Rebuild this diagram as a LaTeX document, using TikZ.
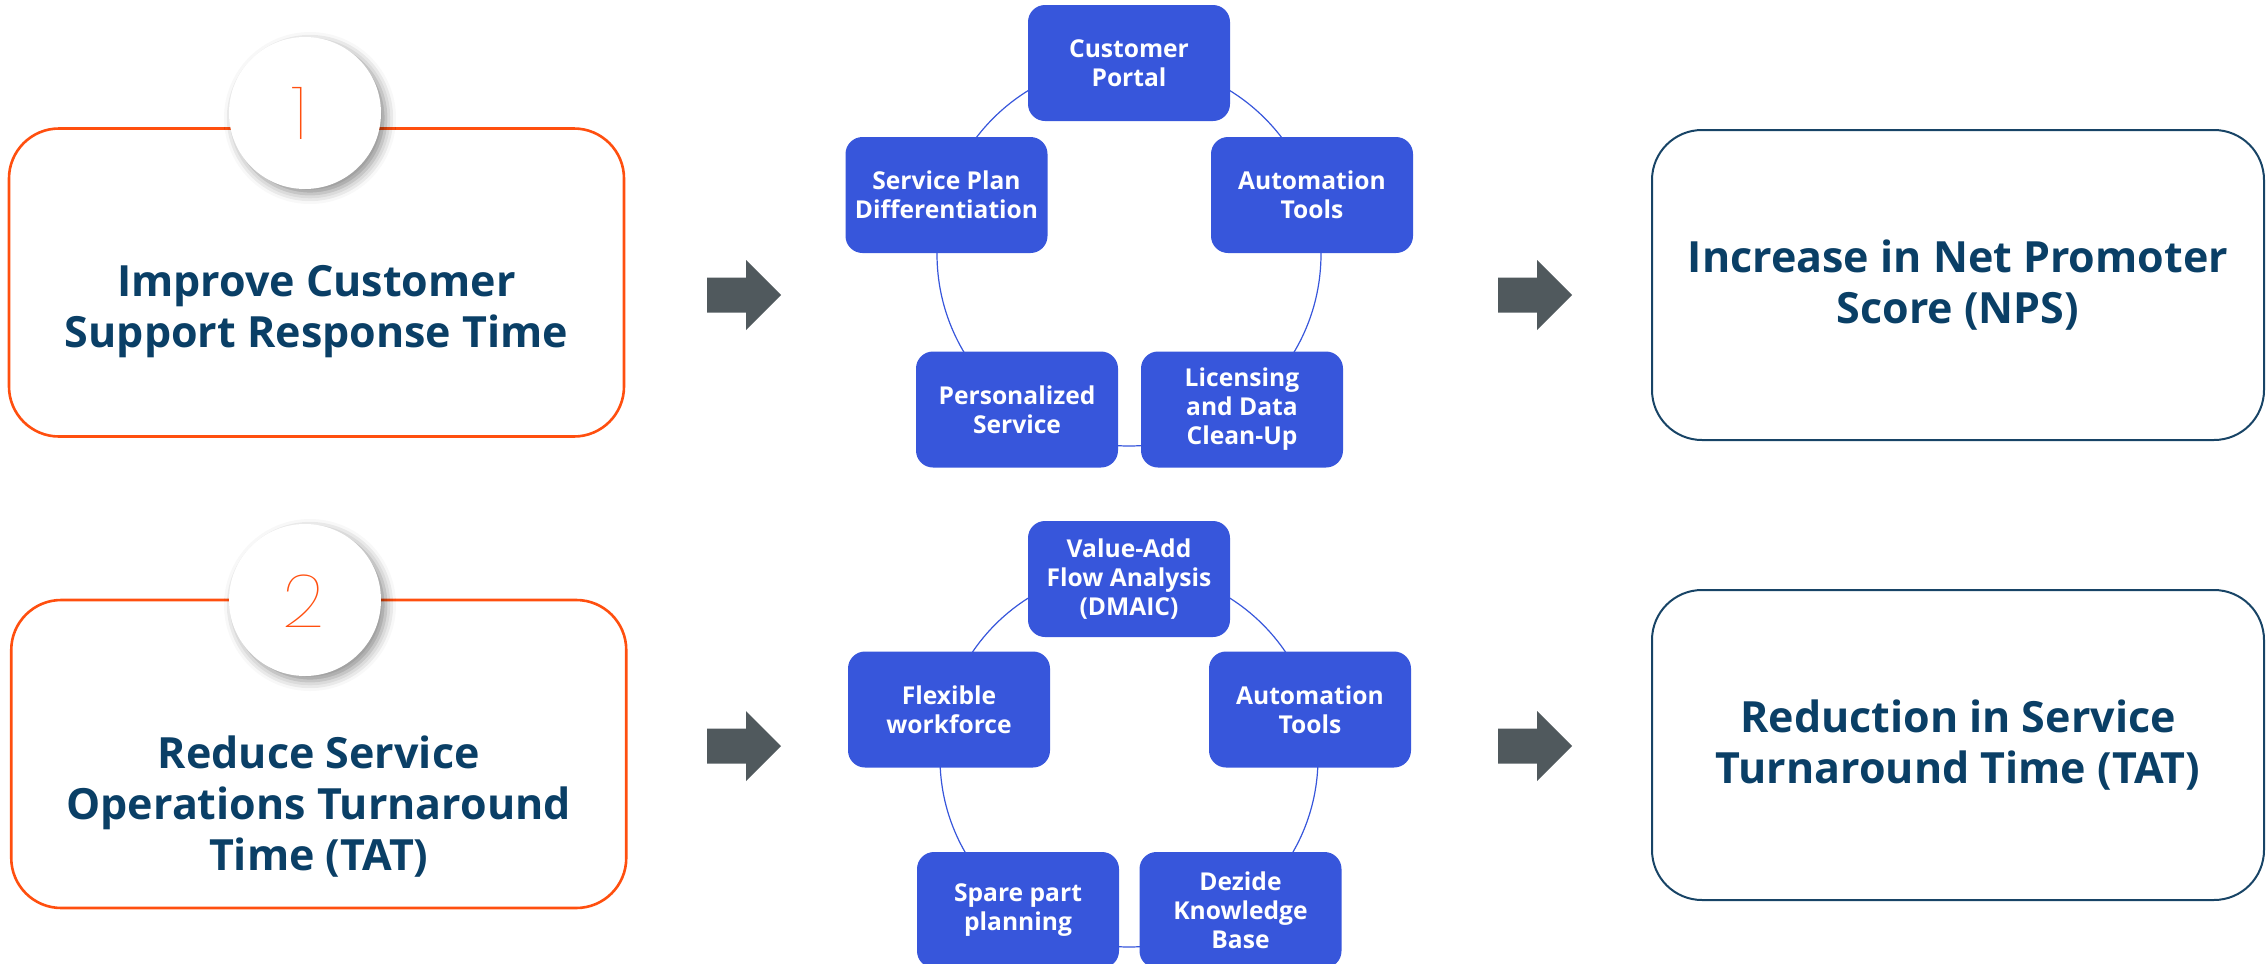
\documentclass[tikz,border=0pt]{standalone}
\usepackage{fontspec}
\setmainfont{Open Sans}
\newfontfamily\numfont{Poppins Thin}
\usetikzlibrary{shadows.blur,calc}

\definecolor{brandorange}{HTML}{FF4F0F}
\definecolor{navy}{HTML}{0A3F66}
\definecolor{outcomeline}{HTML}{184466}
\definecolor{leverblue}{HTML}{3756DB}
\definecolor{arrowgray}{HTML}{50595D}

\newcommand\bigtitle{\fontsize{21.5}{25.5}\selectfont\bfseries}
\newcommand\levertext{\fontsize{12.3}{14.5}\selectfont\bfseries}

\tikzset{
  goalbox/.style={draw=brandorange, line width=1.3pt, rounded corners=25pt,
    minimum width=307.5pt, minimum height=154pt, inner sep=0pt},
  outcomebox/.style={draw=outcomeline, line width=1pt, rounded corners=25pt,
    minimum width=306pt, minimum height=155pt, inner sep=0pt,
    align=center, text=navy, font=\bigtitle},
  goaltitle/.style={align=center, text=navy, font=\bigtitle, inner sep=0pt},
  lever/.style={fill=leverblue, rounded corners=8.5pt, minimum width=101pt,
    minimum height=58pt, inner sep=0pt, align=center, text=white, font=\levertext},
  ringline/.style={draw=leverblue, line width=0.6pt},
  disc/.style={circle, fill=white, minimum size=76pt, inner sep=0pt,
    blur shadow={shadow xshift=2.5pt, shadow yshift=-2.5pt,
      shadow blur radius=5pt, shadow opacity=45}},
  digit/.style={text=brandorange, font=\numfont\fontsize{37}{37}\selectfont, inner sep=0pt},
  pics/blockarrow/.style={code={
    \fill[arrowgray] (0,-17.5) -- (39,-17.5) -- (39,-35) -- (74,0)
      -- (39,35) -- (39,17.5) -- (0,17.5) -- cycle;}}
}

\begin{document}
\begin{tikzpicture}[x=0.5pt,y=-0.5pt]
\useasboundingbox (0,0) rectangle (2267,964);

% ---------- goals (left column) ----------
\node[goalbox] (goal1) at (316.5,282.5) {};
\node[goalbox] (goal2) at (318.75,754) {};
\node[goaltitle] (goal1txt) at (316.5,312) {Improve Customer\\Support Response Time};
\node[goaltitle] (goal2txt) at (318.75,807) {Reduce Service\\Operations Turnaround\\Time (TAT)};

\node[disc] (disc1) at (305,113) {};
\node[disc] (disc2) at (305,600) {};
\node[digit] (num1) at (300,113) {1};
\node[digit] (num2) at (303.5,601.5) {2};

% ---------- block arrows ----------
\coordinate (arrA1) at (707,295);
\coordinate (arrB1) at (1498,295);
\coordinate (arrA2) at (707,746);
\coordinate (arrB2) at (1498,746);
\pic at (arrA1) {blockarrow};
\pic at (arrB1) {blockarrow};
\pic at (arrA2) {blockarrow};
\pic at (arrB2) {blockarrow};

% ---------- lever cycle 1 ----------
\coordinate (ring1) at (1129,254);
\draw[ringline] (ring1) circle[radius=192];
\node[lever] (cp)  at (1129,63)    {Customer\\Portal};
\node[lever] (spd) at (946.5,195)  {Service Plan\\Differentiation};
\node[lever] (at1) at (1312,195)   {Automation\\Tools};
\node[lever] (ps)  at (1017,409.5) {Personalized\\Service};
\node[lever] (ldc) at (1242,409.5) {Licensing\\and Data\\Clean-Up};

% ---------- lever cycle 2 ----------
\coordinate (ring2) at (1129,758);
\draw[ringline] (ring2) circle[radius=189];
\node[lever] (va)  at (1129,579)   {Value-Add\\Flow Analysis\\(DMAIC)};
\node[lever] (fw)  at (949,709.5)  {Flexible\\workforce};
\node[lever] (at2) at (1310,709.5) {Automation\\Tools};
\node[lever] (sp)  at (1018,910)   {Spare part\\planning};
\node[lever] (dkb) at (1240.5,910) {Dezide\\Knowledge\\Base};

% ---------- outcomes (right column) ----------
\node[outcomebox] (out1) at (1958,285) {Increase in Net Promoter\\Score (NPS)};
\node[outcomebox] (out2) at (1958,745) {Reduction in Service\\Turnaround Time (TAT)};
\end{tikzpicture}
\end{document}
